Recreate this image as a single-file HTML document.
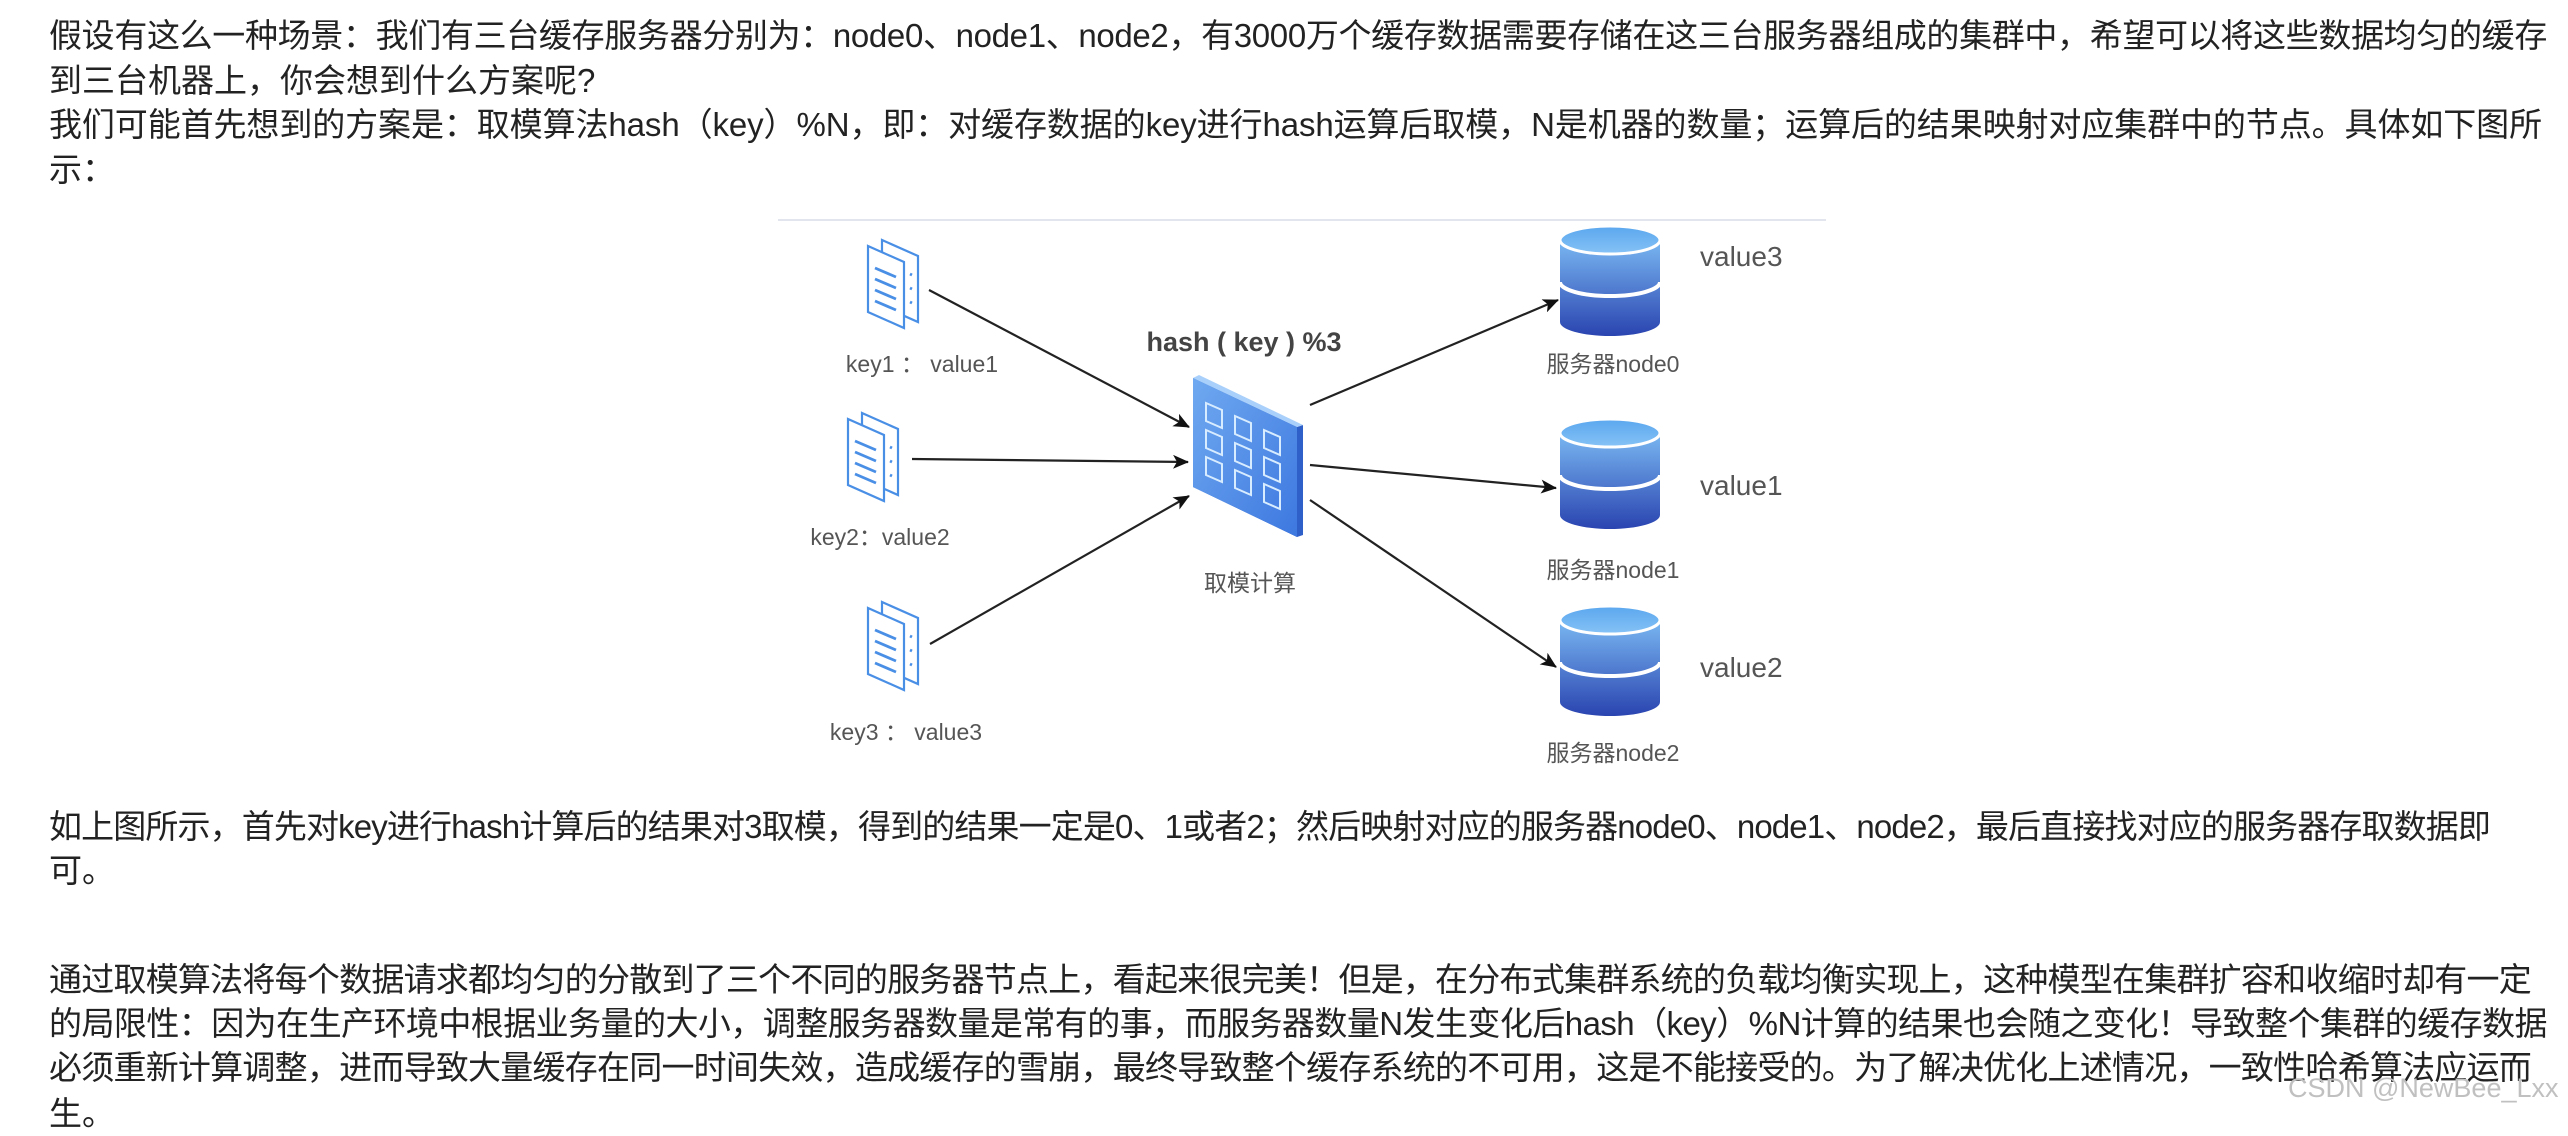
<!DOCTYPE html>
<html><head><meta charset="utf-8">
<style>
body{margin:0;width:2568px;height:1134px;background:#fff;overflow:hidden;position:relative;font-family:"Liberation Sans","Noto Sans CJK SC",sans-serif;color:#222;}
.l{position:absolute;left:49px;font-size:33px;line-height:44px;white-space:nowrap;}
svg{position:absolute;left:0;top:0}
.wm{position:absolute;left:2288px;top:1073px;font-size:27px;color:#c0c0c0;white-space:nowrap;font-family:"Liberation Sans",sans-serif}
</style></head><body>
<div class="l" style="top:14px" data-w="2498">假设有这么一种场景：我们有三台缓存服务器分别为：node0、node1、node2，有3000万个缓存数据需要存储在这三台服务器组成的集群中，希望可以将这些数据均匀的缓存</div>
<div class="l" style="top:59px">到三台机器上，你会想到什么方案呢?</div>
<div class="l" style="top:103px" data-w="2493">我们可能首先想到的方案是：取模算法hash（key）%N，即：对缓存数据的key进行hash运算后取模，N是机器的数量；运算后的结果映射对应集群中的节点。具体如下图所</div>
<div class="l" style="top:148px">示：</div>
<div class="l" style="top:805px" data-w="2441">如上图所示，首先对key进行hash计算后的结果对3取模，得到的结果一定是0、1或者2；然后映射对应的服务器node0、node1、node2，最后直接找对应的服务器存取数据即</div>
<div class="l" style="top:849px">可。</div>
<div class="l" style="top:958px" data-w="2482">通过取模算法将每个数据请求都均匀的分散到了三个不同的服务器节点上，看起来很完美！但是，在分布式集群系统的负载均衡实现上，这种模型在集群扩容和收缩时却有一定</div>
<div class="l" style="top:1002px" data-w="2498">的局限性：因为在生产环境中根据业务量的大小，调整服务器数量是常有的事，而服务器数量N发生变化后hash（key）%N计算的结果也会随之变化！导致整个集群的缓存数据</div>
<div class="l" style="top:1046px" data-w="2482">必须重新计算调整，进而导致大量缓存在同一时间失效，造成缓存的雪崩，最终导致整个缓存系统的不可用，这是不能接受的。为了解决优化上述情况，一致性哈希算法应运而</div>
<div class="l" style="top:1092px">生。</div>
<svg width="2568" height="1134" viewBox="0 0 2568 1134">
<defs>
<linearGradient id="cy" x1="0" y1="0" x2="0" y2="1"><stop offset="0" stop-color="#7ab8f2"/><stop offset="1" stop-color="#2a44b0"/></linearGradient>
<linearGradient id="ct" x1="0" y1="0" x2="0" y2="1"><stop offset="0" stop-color="#5aa6ee"/><stop offset="1" stop-color="#86c2f6"/></linearGradient>
<linearGradient id="pn" x1="0" y1="0" x2="1" y2="1"><stop offset="0" stop-color="#6fa9f0"/><stop offset="1" stop-color="#3d78e0"/></linearGradient>
<marker id="a" markerWidth="16" markerHeight="14" refX="15" refY="7" orient="auto" markerUnits="userSpaceOnUse"><path d="M0,0 L16,7 L0,14 L4,7z" fill="#111"/></marker>
<g id="doc" fill="none" stroke="#4a8fe6" stroke-width="2.2">
<path d="M16,0 L52,16 L52,82 L16,66z" fill="#fff"/>
<path d="M2,6 L38,22 L38,88 L2,72z" fill="#fff"/>
<path d="M9,28 L30,37 M9,39 L30,48 M9,50 L30,59 M9,61 L30,70" stroke-width="2.8"/>
<path d="M44,34 L46,35 M44,48 L46,49 M44,62 L46,63" stroke-width="2.8"/>
</g>
<g id="db">
<path d="M-50,0 L-50,82 A50,14 0 0 0 50,82 L50,0z" fill="url(#cy)"/>
<path d="M-50,42 A50,14 0 0 0 50,42" fill="none" stroke="#fff" stroke-width="4"/>
<ellipse cx="0" cy="0" rx="50" ry="14" fill="url(#ct)" stroke="#fff" stroke-width="3"/>
</g>
</defs>
<line x1="778" y1="220" x2="1826" y2="220" stroke="#e2e5ee" stroke-width="2"/>
<use href="#doc" x="866" y="240"/>
<use href="#doc" x="846" y="413"/>
<use href="#doc" x="866" y="602"/>
<g font-size="23" fill="#555">
<text x="922" y="372" text-anchor="middle">key1 ： value1</text>
<text x="880" y="545" text-anchor="middle">key2：value2</text>
<text x="906" y="740" text-anchor="middle">key3 ： value3</text>
<text x="1613" y="372" text-anchor="middle">服务器node0</text>
<text x="1613" y="578" text-anchor="middle">服务器node1</text>
<text x="1613" y="761" text-anchor="middle">服务器node2</text>
<text x="1250" y="591" text-anchor="middle">取模计算</text>
</g>
<g font-size="28" fill="#555">
<text x="1700" y="266">value3</text>
<text x="1700" y="495">value1</text>
<text x="1700" y="677">value2</text>
</g>
<text x="1244" y="351" text-anchor="middle" font-size="27" font-weight="bold" fill="#444">hash ( key ) %3</text>
<g stroke="#222" stroke-width="2.2" marker-end="url(#a)">
<line x1="929" y1="290" x2="1189" y2="427"/>
<line x1="912" y1="459" x2="1188" y2="462"/>
<line x1="930" y1="644" x2="1189" y2="496"/>
<line x1="1310" y1="405" x2="1558" y2="300"/>
<line x1="1310" y1="465" x2="1556" y2="488"/>
<line x1="1310" y1="500" x2="1556" y2="667"/>
</g>
<path d="M1193,378 L1297,427 L1303,425 L1303,535 L1297,537 L1193,487z" fill="#2f5fc8"/>
<path d="M1193,378 L1199,375 L1303,425 L1297,427z" fill="#a9d0fa"/>
<path d="M1193,378 L1297,427 L1297,537 L1193,487z" fill="url(#pn)"/>
<g fill="none" stroke="#d8ecff" stroke-width="2">
<path d="M1206,403 l16,7 v18 l-16,-7z M1235,416 l16,7 v18 l-16,-7z M1264,430 l16,7 v18 l-16,-7z"/>
<path d="M1206,430 l16,7 v18 l-16,-7z M1235,443 l16,7 v18 l-16,-7z M1264,457 l16,7 v18 l-16,-7z"/>
<path d="M1206,457 l16,7 v18 l-16,-7z M1235,470 l16,7 v18 l-16,-7z M1264,484 l16,7 v18 l-16,-7z"/>
</g>
<use href="#db" x="1610" y="240"/>
<use href="#db" x="1610" y="433"/>
<use href="#db" x="1610" y="620"/>
</svg>
<div class="wm">CSDN @NewBee_Lxx</div>
<script>
document.querySelectorAll('[data-w]').forEach(function(e){
var t=+e.getAttribute('data-w');var w=e.getBoundingClientRect().width;var n=e.textContent.length;
e.style.letterSpacing=((t-w)/n)+'px';});
</script>
</body></html>
